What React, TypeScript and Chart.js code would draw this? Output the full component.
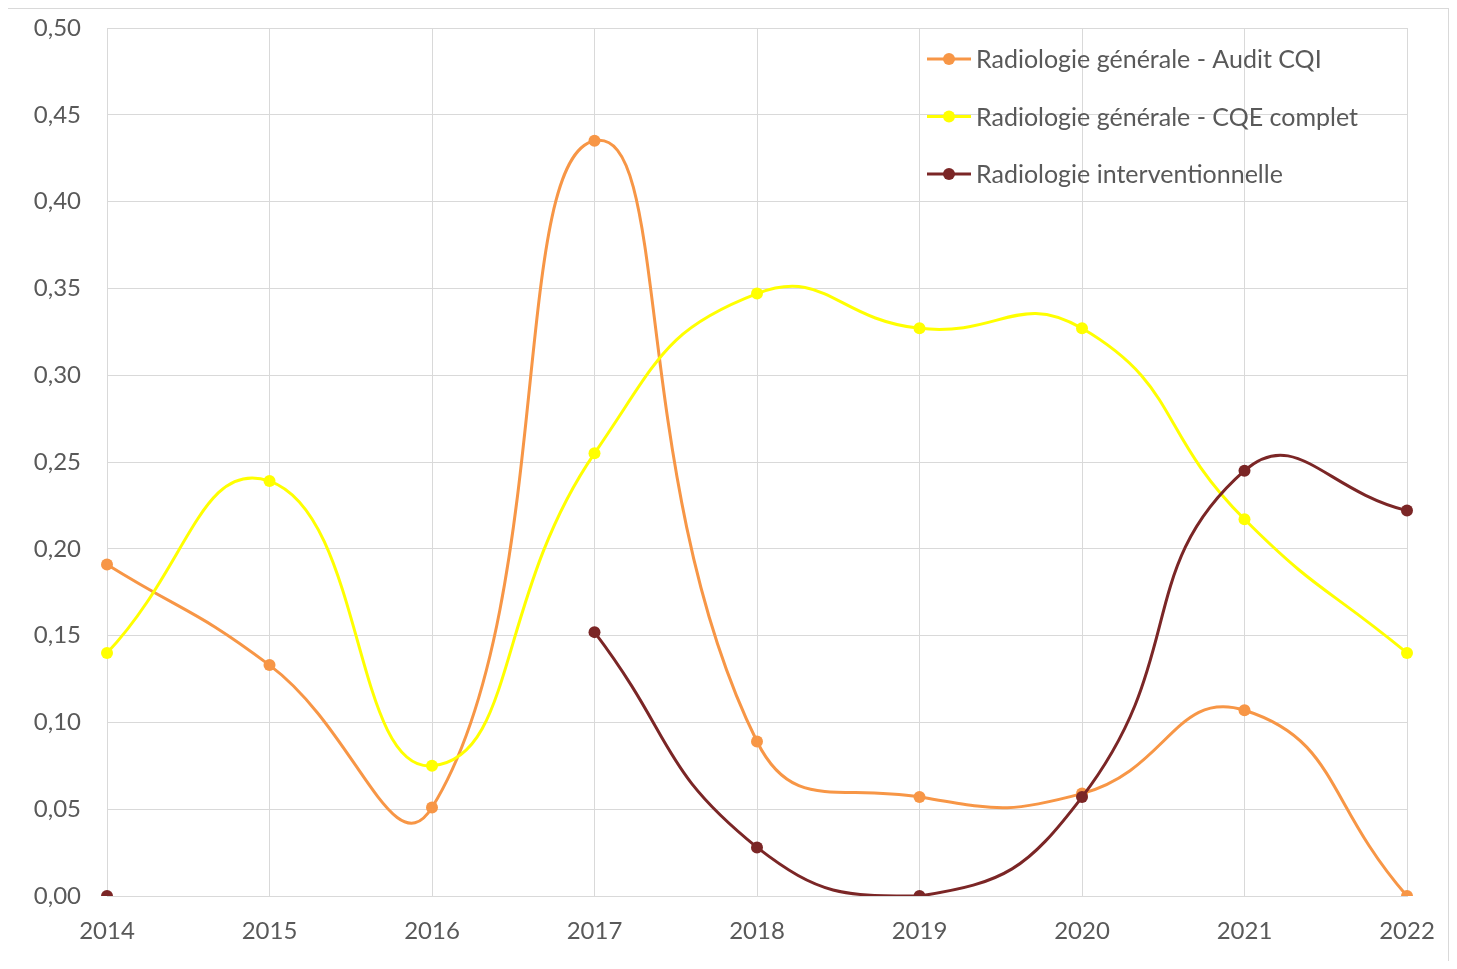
import React, { useEffect, useRef } from "react";
import { Chart, registerables } from "chart.js";

Chart.register(...registerables);

const years = ["2014", "2015", "2016", "2017", "2018", "2019", "2020", "2021", "2022"];
const auditCQI = [0.191, 0.133, 0.051, 0.435, 0.089, 0.057, 0.059, 0.107, 0.0];
const cqeComplet = [0.14, 0.239, 0.075, 0.255, 0.347, 0.327, 0.327, 0.217, 0.14];
const interventionnelle = [0.0, null, null, 0.152, 0.028, 0.0, 0.057, 0.245, 0.222];
const seriesLabels = [
  "Radiologie générale - Audit CQI",
  "Radiologie générale - CQE complet",
  "Radiologie interventionnelle",
];
const seriesColors = ["#F79646", "#FFFF00", "#7B2626"];

const FONT = "Lato, 'Liberation Sans', sans-serif";
const TEXT = "#595959";
const GRID = "#d9d9d9";

const legendPlugin = {
  id: "insideLegend",
  afterDraw(chart: any) {
    const ctx = chart.ctx as CanvasRenderingContext2D;
    ctx.save();
    chart.data.datasets.forEach((ds: any, i: number) => {
      const y = 59 + i * 57.5;
      ctx.strokeStyle = ds.borderColor;
      ctx.lineWidth = 3;
      ctx.beginPath();
      ctx.moveTo(927, y);
      ctx.lineTo(971, y);
      ctx.stroke();
      ctx.fillStyle = ds.borderColor;
      ctx.beginPath();
      ctx.arc(949, y, 6, 0, Math.PI * 2);
      ctx.fill();
      ctx.fillStyle = TEXT;
      ctx.font = `25px ${FONT}`;
      ctx.textAlign = "left";
      ctx.textBaseline = "middle";
      ctx.fillText(ds.label, 976, y + 1);
    });
    ctx.restore();
  },
};

export default function App() {
  const ref = useRef<HTMLCanvasElement>(null);
  useEffect(() => {
    if (!ref.current) return;
    const mk = (label: string, data: (number | null)[], color: string, order: number) => ({
      label,
      data,
      borderColor: color,
      backgroundColor: color,
      borderWidth: 3,
      pointRadius: 6,
      pointBorderWidth: 0,
      pointBackgroundColor: color,
      tension: 0.5,
      spanGaps: false,
      order,
    });
    const chart = new Chart(ref.current, {
      type: "line",
      data: {
        labels: years,
        datasets: [
          mk(seriesLabels[0], auditCQI, seriesColors[0], 3),
          mk(seriesLabels[1], cqeComplet, seriesColors[1], 2),
          mk(seriesLabels[2], interventionnelle, seriesColors[2], 1),
        ],
      },
      options: {
        animation: false,
        responsive: false,
        devicePixelRatio: 1,
        layout: { padding: { top: 0, right: 50, left: 0, bottom: 0 } },
        plugins: { legend: { display: false }, tooltip: { enabled: false } },
        scales: {
          x: {
            grid: { color: GRID, lineWidth: 1, drawTicks: false },
            border: { color: GRID, width: 1 },
            ticks: { color: TEXT, font: { family: FONT, size: 24 }, padding: 21, maxRotation: 0 },
            afterFit: (s: any) => {
              s.height = 73;
            },
          },
          y: {
            min: 0,
            max: 0.5,
            grid: { color: GRID, lineWidth: 1, drawTicks: false },
            border: { color: GRID, width: 1 },
            ticks: {
              stepSize: 0.05,
              color: TEXT,
              font: { family: FONT, size: 24 },
              padding: 26,
              callback: (v: any) => Number(v).toFixed(2).replace(".", ","),
            },
            afterFit: (s: any) => {
              s.width = 107;
              s.paddingTop = 28;
              s.paddingBottom = 0;
            },
          },
        },
      },
      plugins: [legendPlugin],
    });
    return () => chart.destroy();
  }, []);

  return (
    <div style={{ position: "relative", width: 1457, height: 969, margin: -8, overflow: "hidden", background: "#fff" }}>
      <div
        style={{
          position: "absolute",
          left: 6,
          top: 7,
          width: 1444,
          height: 1000,
          boxSizing: "border-box",
          border: `2px solid ${GRID}`,
        }}
      />
      <canvas ref={ref} width={1457} height={969} style={{ position: "absolute", left: 0, top: 0 }} />
    </div>
  );
}
